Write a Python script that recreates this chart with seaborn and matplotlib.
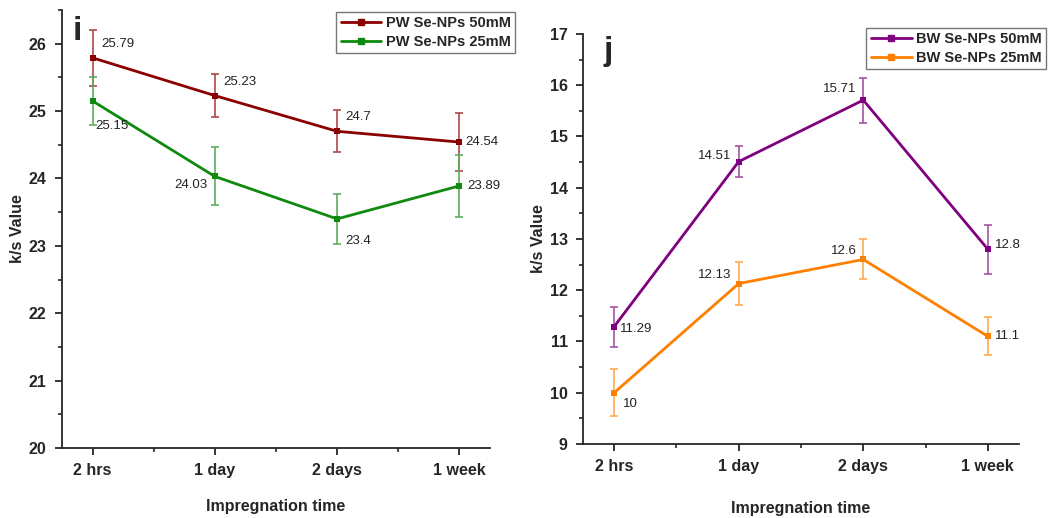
import numpy as np
import pandas as pd
import matplotlib
matplotlib.use("Agg")
import matplotlib.pyplot as plt
from matplotlib.ticker import MultipleLocator, FixedLocator
import seaborn as sns

# ---- data ----
times = ["2 hrs", "1 day", "2 days", "1 week"]

pw_50 = [25.79, 25.23, 24.70, 24.54]
pw_50_err = [0.42, 0.32, 0.31, 0.43]
pw_25 = [25.15, 24.03, 23.40, 23.89]
pw_25_err = [0.36, 0.43, 0.37, 0.46]

bw_50 = [11.29, 14.51, 15.71, 12.80]
bw_50_err = [0.39, 0.31, 0.44, 0.48]
bw_25 = [10.00, 12.13, 12.60, 11.10]
bw_25_err = [0.46, 0.42, 0.39, 0.37]

pw_labels = ["PW Se-NPs 50mM", "PW Se-NPs 25mM"]
bw_labels = ["BW Se-NPs 50mM", "BW Se-NPs 25mM"]

sns.set_style("ticks")
# narrow fonts first if they happen to exist, else Liberation Sans
plt.rcParams['font.family'] = ['Liberation Sans Narrow', 'DejaVu Sans Condensed',
                               'Liberation Sans', 'DejaVu Sans']
plt.rcParams['axes.linewidth'] = 1.3

fig = plt.figure(figsize=(10.61, 5.18), dpi=100)
ax1 = fig.add_axes([0.0584, 0.1351, 0.4034, 0.8456])
ax2 = fig.add_axes([0.5495, 0.1429, 0.4109, 0.7915])


def make_frame(vals_a, vals_b, labels):
    return pd.DataFrame({
        "pos": list(range(len(times))) * 2,
        "value": list(vals_a) + list(vals_b),
        "series": [labels[0]] * len(times) + [labels[1]] * len(times),
    })


def draw_panel(ax, vals_a, err_a, vals_b, err_b, labels, colors, ecolors,
               offs_a, offs_b, ylim, letter, letter_xy, leg_anchor, xpad):
    df = make_frame(vals_a, vals_b, labels)
    sns.lineplot(data=df, x="pos", y="value", hue="series",
                 palette=dict(zip(labels, colors)), marker="s", markersize=5,
                 markeredgewidth=0, linewidth=2, ax=ax, legend=False)
    x = np.arange(len(times))
    for vals, errs, ec in [(vals_a, err_a, ecolors[0]), (vals_b, err_b, ecolors[1])]:
        ax.errorbar(x, vals, yerr=errs, fmt="none", ecolor=ec, elinewidth=1.2,
                    capsize=3.2, capthick=1.2, zorder=1)
    for vals, offs in [(vals_a, offs_a), (vals_b, offs_b)]:
        for xi, v, (dx, dy, ha) in zip(x, vals, offs):
            ax.annotate(f"{v:g}", (xi, v), xytext=(dx, dy), textcoords="offset points",
                        ha=ha, va="center", fontsize=9.5, color="#222222")

    ax.set_xlim(-0.25, 3.25)
    ax.set_ylim(*ylim)
    ax.set_xticks(x)
    ax.set_xticklabels(times)
    ax.xaxis.set_minor_locator(FixedLocator([0.5, 1.5, 2.5]))
    ax.yaxis.set_major_locator(MultipleLocator(1))
    ax.yaxis.set_minor_locator(MultipleLocator(0.5))
    ax.tick_params(axis="both", which="major", direction="out", length=5, width=1.3,
                   labelsize=11.5, pad=6)
    ax.tick_params(axis="both", which="minor", direction="out", length=3, width=1.2)
    for lab in ax.get_xticklabels() + ax.get_yticklabels():
        lab.set_fontweight("bold")
    sns.despine(ax=ax)
    ax.set_xlabel("Impregnation time", fontsize=11.5, fontweight="bold", labelpad=xpad)
    ax.set_ylabel("k/s Value", fontsize=11.5, fontweight="bold", labelpad=3)

    handles = [plt.Line2D([], [], color=c, marker="s", markersize=4, linewidth=2)
               for c in colors]
    leg = fig.legend(handles, labels, loc="upper right", bbox_to_anchor=leg_anchor,
                     frameon=True, fancybox=False, edgecolor="#555555",
                     prop={"weight": "bold", "size": 10.5}, handlelength=2.8,
                     borderpad=0.3, labelspacing=0.3, handletextpad=0.3,
                     borderaxespad=0)
    leg.get_frame().set_linewidth(1.0)
    fig.text(letter_xy[0], letter_xy[1], letter, fontsize=24, fontweight="bold",
             family=['Liberation Sans', 'DejaVu Sans'], ha="center", va="center")


draw_panel(ax1, pw_50, pw_50_err, pw_25, pw_25_err, pw_labels,
           ["#8B0000", "#0F8A0F"], ["#B04848", "#5DAE5D"],
           [(6, 10, "left"), (6, 10, "left"), (6, 10, "left"), (4, 0, "left")],
           [(2, -18, "left"), (-5, -6, "right"), (6, -16, "left"), (6, 0, "left")],
           (20, 26.5), "i", (0.073, 0.940), (0.4855, 0.977), 15)

draw_panel(ax2, bw_50, bw_50_err, bw_25, bw_25_err, bw_labels,
           ["#800080", "#FF7F00"], ["#A454A4", "#FFA850"],
           [(4, -2, "left"), (-5, 4, "right"), (-5, 8, "right"), (5, 3, "left")],
           [(6, -8, "left"), (-5, 6, "right"), (-5, 6, "right"), (5, 0, "left")],
           (9, 17), "j", (0.573, 0.900), (0.986, 0.946), 19)

fig.savefig("out.png", dpi=100)
